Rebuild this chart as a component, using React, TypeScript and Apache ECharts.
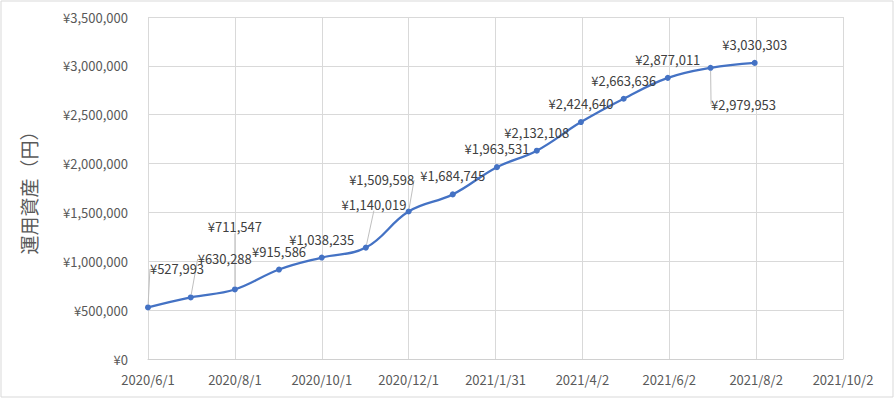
import React, { useEffect, useRef } from "react";
import * as echarts from "echarts";

// ---- data ----
const dates = [
  "2020/6/1", "2020/7/1", "2020/8/1", "2020/9/1", "2020/10/1",
  "2020/11/1", "2020/12/1", "2021/1/1", "2021/2/1", "2021/3/1",
  "2021/4/1", "2021/5/1", "2021/6/1", "2021/7/1", "2021/8/1",
];
const values = [
  527993, 630288, 711547, 915586, 1038235,
  1140019, 1509598, 1684745, 1963531, 2132108,
  2424640, 2663636, 2877011, 2979953, 3030303,
];
const axisStart = "2020/6/1";
const axisEnd = "2021/10/2";
const tickDays = 61;
const yMax = 3500000;
const yStep = 500000;
const yTitle = "運用資産（円）";

// ---- label layout (moved labels with leader lines) ----
const labelMoves: Record<number, [number, number]> = {
  0: [29, -20],
  1: [34, -20],
  2: [0, -44],
  5: [8, -25],
  6: [-27, -13],
  13: [33, 55],
};

const DAY = 86400000;
const toUTC = (s: string) => {
  const [y, m, d] = s.split("/").map(Number);
  return Date.UTC(y, m - 1, d);
};
const t0 = toUTC(axisStart);
const dayOf = (s: string) => Math.round((toUTC(s) - t0) / DAY);
const fmtDay = (v: number) => {
  const d = new Date(t0 + v * DAY);
  return `${d.getUTCFullYear()}/${d.getUTCMonth() + 1}/${d.getUTCDate()}`;
};
const yen = (v: number) => "¥" + Math.round(v).toLocaleString("en-US");

const FONT = '"Noto Sans CJK JP", "Noto Sans", sans-serif';

export default function App() {
  const ref = useRef<HTMLDivElement>(null);
  useEffect(() => {
    if (!ref.current) return;
    const chart = echarts.init(ref.current, undefined, { renderer: "svg" });
    const seriesData = dates.map((d, i) => ({
      value: [dayOf(d), values[i]],
      labelLine: { show: !!labelMoves[i] },
    }));
    chart.setOption({
      animation: false,
      backgroundColor: "#ffffff",
      textStyle: { fontFamily: FONT },
      graphic: [
        {
          type: "rect",
          shape: { x: 1, y: 1, width: 892, height: 396 },
          style: { fill: "none", stroke: "#d9d9d9", lineWidth: 1 },
          silent: true,
        },
      ],
      grid: { left: 148, right: 51, top: 17, bottom: 40, containLabel: false },
      xAxis: {
        type: "value",
        min: 0,
        max: dayOf(axisEnd),
        interval: tickDays,
        axisLine: { show: true, lineStyle: { color: "#d0d0d0", width: 1 } },
        axisTick: { show: false },
        splitLine: { show: true, lineStyle: { color: "#d9d9d9", width: 1 } },
        axisLabel: {
          formatter: (v: number) => fmtDay(v),
          color: "#595959",
          fontSize: 13,
          fontFamily: FONT,
          margin: 14,
        },
      },
      yAxis: {
        type: "value",
        min: 0,
        max: yMax,
        interval: yStep,
        name: yTitle,
        nameLocation: "middle",
        nameRotate: 90,
        nameGap: 110,
        nameTextStyle: { color: "#595959", fontSize: 19, fontFamily: FONT },
        axisLine: { show: false },
        axisTick: { show: false },
        splitLine: { show: true, lineStyle: { color: "#d9d9d9", width: 1 } },
        axisLabel: {
          formatter: (v: number) => yen(v),
          color: "#595959",
          fontSize: 13,
          fontFamily: FONT,
          margin: 20,
        },
      },
      series: [
        {
          type: "line",
          data: seriesData,
          smooth: 0.4,
          symbol: "circle",
          symbolSize: 6,
          itemStyle: { color: "#4472C4" },
          lineStyle: { color: "#4472C4", width: 2.25 },
          label: {
            show: true,
            position: "top",
            distance: 9,
            formatter: (p: any) => yen(p.value[1]),
            color: "#404040",
            fontSize: 13,
            fontFamily: FONT,
          },
          labelLine: { show: true, lineStyle: { color: "#bfbfbf", width: 1 } },
          labelLayout: (p: any) => {
            const m = labelMoves[p.dataIndex];
            return m ? { dx: m[0], dy: m[1] } : {};
          },
        },
      ],
    });
    return () => chart.dispose();
  }, []);
  return (
    <div
      ref={ref}
      style={{ position: "fixed", left: 0, top: 0, width: 894, height: 399 }}
    />
  );
}
